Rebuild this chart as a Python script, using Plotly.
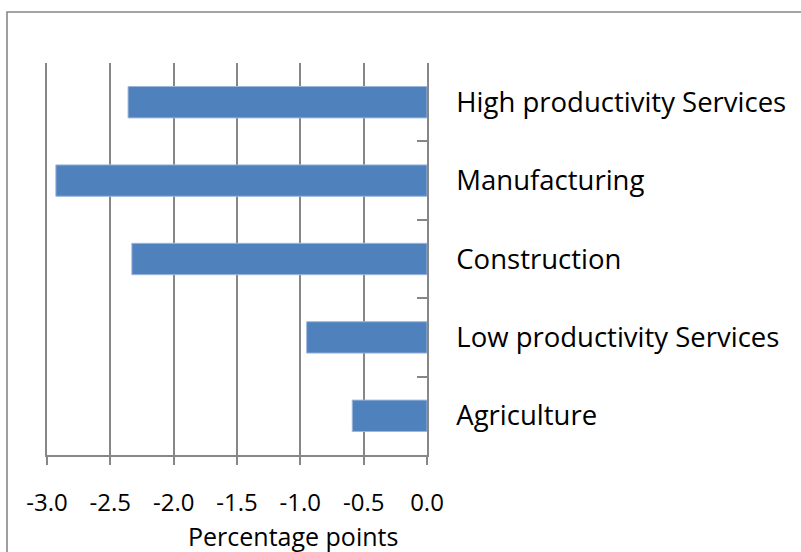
import plotly.graph_objects as go

# Sector contributions, listed bottom to top
sectors = [
    "Agriculture",
    "Low productivity Services",
    "Construction",
    "Manufacturing",
    "High productivity Services",
]
change_pp = [-0.59, -0.95, -2.33, -2.93, -2.36]

x_ticks = [-3.0, -2.5, -2.0, -1.5, -1.0, -0.5, 0.0]
x_title = "Percentage points"

FONT = "'Open Sans', 'Noto Sans', sans-serif"
AXIS_GREY = "#878787"
BAR_BLUE = "#4F81BD"

# plot area in pixels (left, right, top, bottom)
PL, PR, PT, PB = 47, 427, 63, 455
PW, PH = PR - PL, PB - PT

fig = go.Figure(
    go.Bar(
        x=change_pp,
        y=sectors,
        orientation="h",
        marker=dict(color=BAR_BLUE, line=dict(color="#9DB5DB", width=1)),
        hoverinfo="x+y",
    )
)

fig.update_layout(
    width=801,
    height=552,
    margin=dict(l=PL, r=801 - PR, t=PT, b=552 - PB),
    paper_bgcolor="white",
    plot_bgcolor="white",
    bargap=0.6,
    showlegend=False,
    font=dict(family=FONT, color="#000000"),
)

fig.update_xaxes(
    range=[-3.0, 0.0],
    tickvals=x_ticks,
    ticktext=[f"{v:.1f}" for v in x_ticks],
    tickfont=dict(size=24),
    ticklabelstandoff=17,
    showgrid=True,
    gridcolor=AXIS_GREY,
    gridwidth=1.6,
    showline=True,
    linecolor=AXIS_GREY,
    linewidth=1.6,
    ticks="outside",
    ticklen=8,
    tickwidth=1.6,
    tickcolor=AXIS_GREY,
    zeroline=False,
)

fig.update_yaxes(
    type="category",
    categoryorder="array",
    categoryarray=sectors,
    side="right",
    mirror=True,  # repeats the axis line on the -3.0 edge
    showgrid=False,
    showline=True,
    linecolor=AXIS_GREY,
    linewidth=1.6,
    ticks="inside",
    tickson="boundaries",
    ticklen=10,
    tickwidth=1.6,
    tickcolor=AXIS_GREY,
    tickfont=dict(size=27.5),
    ticklabelstandoff=22,
)

# Axis title, set right of the plot's centre
fig.add_annotation(
    text=x_title,
    xref="paper",
    yref="paper",
    x=(293 - PL) / PW,
    y=-(536 - PB) / PH,
    xanchor="center",
    yanchor="middle",
    showarrow=False,
    font=dict(size=25),
)

# Chart frame around the whole figure
fig.add_shape(
    type="rect",
    xref="paper",
    yref="paper",
    x0=(7 - PL) / PW,
    x1=(805 - PL) / PW,
    y0=-(560 - PB) / PH,
    y1=1 + (PT - 12) / PH,
    line=dict(color=AXIS_GREY, width=1.6),
    fillcolor="rgba(0,0,0,0)",
    layer="below",
)

fig.write_html("out.html")
